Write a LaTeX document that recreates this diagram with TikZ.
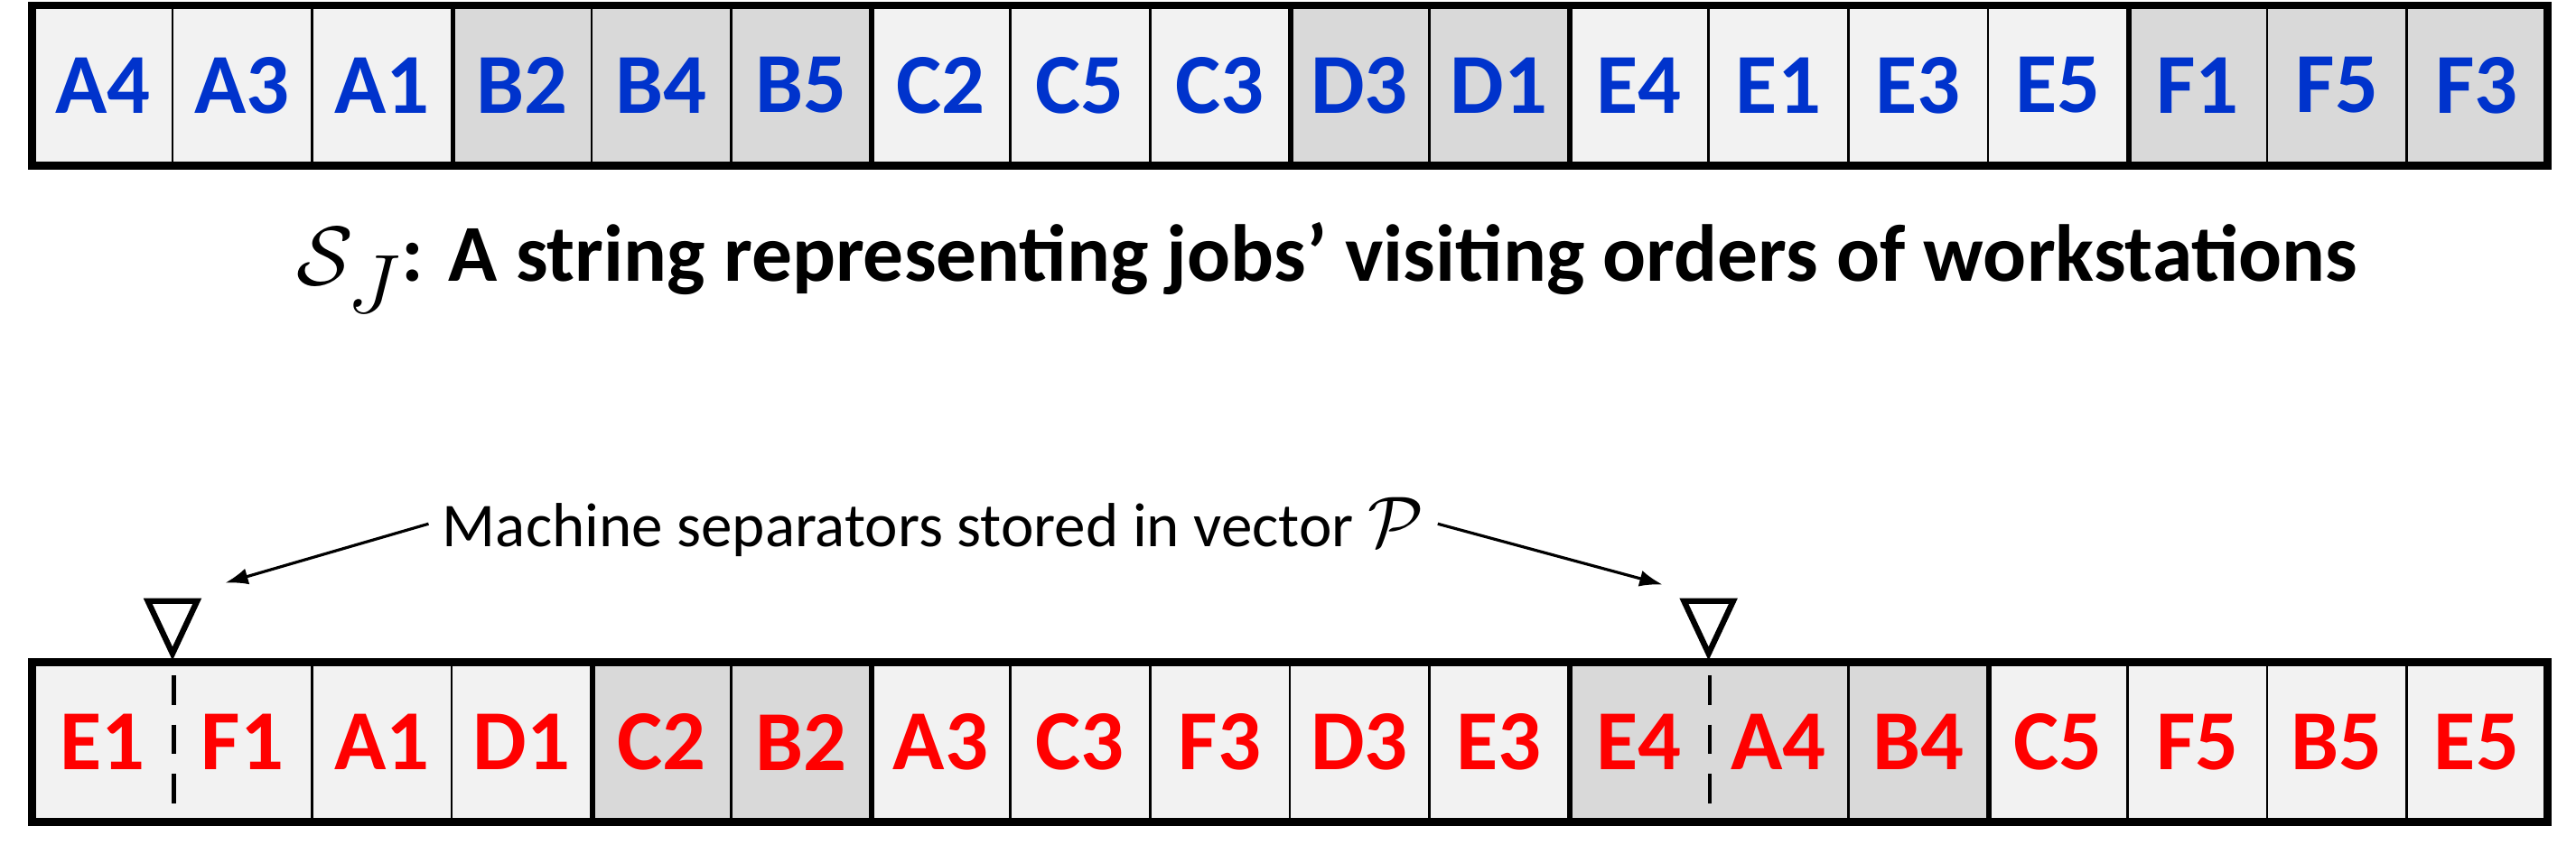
\documentclass[tikz,border=0pt]{standalone}
\usepackage{fontspec}
\usepackage{graphicx}
\usetikzlibrary{arrows.meta}
\setmainfont{Carlito}
\begin{document}
\begin{tikzpicture}[x=0.5mm,y=-0.5mm,
 cell/.style={draw=black,line width=2pt,minimum width=85*0.5mm,minimum height=96*0.5mm,inner sep=0pt,anchor=center,font=\fontsize{74}{80}\selectfont\bfseries},
 lt/.style={fill={rgb,255:red,242;green,242;blue,242}},
 dk/.style={fill={rgb,255:red,217;green,217;blue,217}},
 blu/.style={text={rgb,255:red,0;green,51;blue,204}},
 rd/.style={text={rgb,255:red,255;green,0;blue,0}},
 grp/.style={line width=4.5pt},
 outer/.style={line width=7pt},
 arr/.style={-{Latex[length=7mm,width=5mm]},line width=2.5pt},
 tri/.style={line width=5pt,line join=miter}]
\useasboundingbox (0,0) rectangle (1568,514.6);
% top string
\foreach \t/\f [count=\i] in {A4/lt,A3/lt,A1/lt,B2/dk,B4/dk,B5/dk,C2/lt,C5/lt,C3/lt,D3/dk,D1/dk,E4/lt,E1/lt,E3/lt,E5/lt,F1/dk,F5/dk,F3/dk}
 \node[cell,\f,blu] (t\i) at ({20+85*(\i-0.5)},52) {\t};
\foreach \k in {3,6,9,11,15}
 \draw[grp] (t\k.north east) -- (t\k.south east);
\draw[outer] (t1.north west) rectangle (t18.south east);
\node[font=\fontsize{70}{76}\selectfont\bfseries] (title) at (808,163) {\raisebox{-0.1ex}{\scalebox{2.9}{$\mathcal{S}_{J}$}}: A string representing jobs’ visiting orders of workstations};
% bottom string
\foreach \t/\f [count=\i] in {E1/lt,F1/lt,A1/lt,D1/lt,C2/dk,B2/dk,A3/lt,C3/lt,F3/lt,D3/lt,E3/lt,E4/dk,A4/dk,B4/dk,C5/lt,F5/lt,B5/lt,E5/lt}
 \node[cell,\f,rd] (b\i) at ({20+85*(\i-0.5)},452) {\t};
\draw[lt,draw=none] ([xshift=-3pt,yshift=-3pt]b1.north east) rectangle ([xshift=3pt,yshift=3pt]b1.south east);
\draw[dk,draw=none] ([xshift=-3pt,yshift=-3pt]b12.north east) rectangle ([xshift=3pt,yshift=3pt]b12.south east);
\foreach \k in {4,6,11,14}
 \draw[grp] (b\k.north east) -- (b\k.south east);
\foreach \k in {1,12}
 \draw[line width=3.5pt,dash pattern=on 9mm off 6mm] ([yshift=-4mm]b\k.north east) -- ([yshift=4mm]b\k.south east);
\draw[outer] (b1.north west) rectangle (b18.south east);
% separators
\coordinate (p1) at (105,398);
\coordinate (p2) at (1040,398);
\draw[tri] (p1) -- ++(-15,-32) -- ++(30,0) -- cycle;
\draw[tri] (p2) -- ++(-15,-32) -- ++(30,0) -- cycle;
\node[font=\fontsize{54}{60}\selectfont] (lab) at (568,321) {Machine separators stored in vector \scalebox{2.5}{$\mathcal{P}$}};
\coordinate (a1) at (137,355);
\coordinate (a2) at (1012,356);
\draw[arr] (lab.west) ++(-6,-2) -- (a1);
\draw[arr] (lab.east) ++(6,-2) -- (a2);
\end{tikzpicture}
\end{document}
